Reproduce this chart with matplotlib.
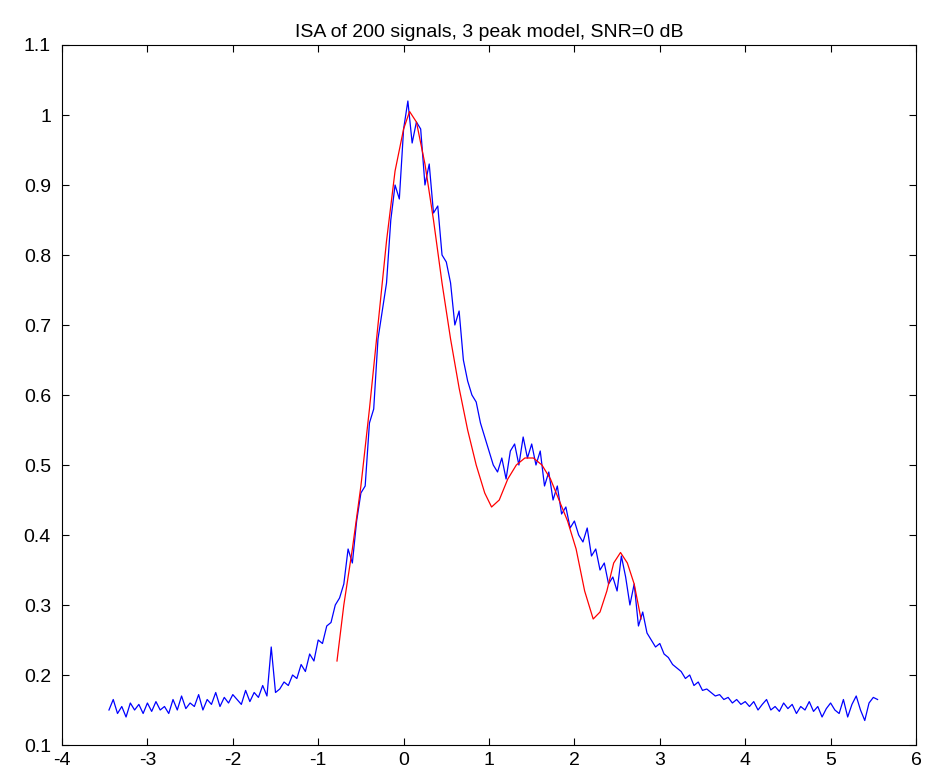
import numpy as np
import matplotlib
matplotlib.use("Agg")
import matplotlib.pyplot as plt

plt.rcParams['font.family'] = ['Liberation Sans', 'DejaVu Sans']
plt.rcParams['axes.unicode_minus'] = False

blue_x = np.round(np.arange(-3.45, 5.5501, 0.05), 2)
blue_y = [
 .150,.165,.145,.155,.140,.160,.150,.158,.145,.160,
 .148,.162,.150,.155,.145,.165,.150,.170,.152,.160,
 .155,.172,.150,.165,.158,.175,.155,.168,.160,.172,
 .165,.158,.178,.162,.175,.168,.185,.170,.240,.175,
 .180,.190,.185,.200,.195,.215,.205,.230,.220,.250,
 .245,.270,.275,.300,.310,.330,.380,.360,.420,.460,
 .470,.560,.580,.680,.720,.760,.850,.900,.880,.980,
 1.02,.960,.990,.980,.900,.930,.860,.870,.800,.790,
 .760,.700,.720,.650,.620,.600,.590,.560,.540,.520,
 .500,.490,.510,.480,.520,.530,.500,.540,.510,.530,
 .500,.520,.470,.490,.450,.470,.430,.440,.410,.420,
 .400,.390,.410,.370,.380,.350,.360,.330,.340,.320,
 .370,.340,.300,.330,.270,.290,.260,.250,.240,.245,
 .230,.225,.215,.210,.205,.195,.200,.185,.190,.178,
 .180,.175,.170,.172,.165,.168,.160,.165,.158,.162,
 .155,.162,.150,.158,.165,.150,.155,.148,.160,.152,
 .158,.145,.155,.150,.162,.148,.155,.140,.152,.160,
 .150,.145,.165,.140,.158,.170,.150,.135,.160,.168,.165]

red_x = [-0.78,-0.7,-0.6,-0.5,-0.4,-0.3,-0.2,-0.1,0.0,0.07,0.15,0.25,0.35,0.45,0.55,0.65,
         0.75,0.85,0.95,1.03,1.12,1.22,1.32,1.42,1.52,1.62,1.72,1.82,1.92,2.02,2.12,2.22,
         2.3,2.38,2.46,2.54,2.62,2.7,2.78]
red_y = [0.22,0.30,0.38,0.47,0.58,0.70,0.82,0.92,0.98,1.005,0.99,0.93,0.85,0.76,0.68,0.61,
         0.55,0.50,0.46,0.44,0.45,0.48,0.50,0.51,0.51,0.50,0.48,0.45,0.42,0.38,0.32,0.28,
         0.29,0.32,0.36,0.375,0.36,0.33,0.28]

fig = plt.figure(figsize=(9.36, 7.71), dpi=100)
ax = fig.add_axes([62/936, 1-745/771, 854/936, 700/771])
ax.plot(blue_x, blue_y, color='blue', lw=0.9)
ax.plot(red_x, red_y, color='red', lw=0.9)
ax.set_xlim(-4, 6)
ax.set_ylim(0.1, 1.1)
ax.set_xticks(range(-4, 7))
yt = np.round(np.arange(0.1, 1.11, 0.1), 1)
ax.set_yticks(yt)
ax.set_yticklabels([f"{v:g}" for v in yt])
ax.tick_params(direction='in', top=True, right=True, labelsize=14, length=5)
ax.tick_params(axis='y', pad=8)
ax.tick_params(axis='x', pad=5)
ax.set_title("ISA of 200 signals, 3 peak model, SNR=0 dB", fontsize=14)
for s in ax.spines.values():
    s.set_linewidth(0.8)
fig.savefig("out.png")
